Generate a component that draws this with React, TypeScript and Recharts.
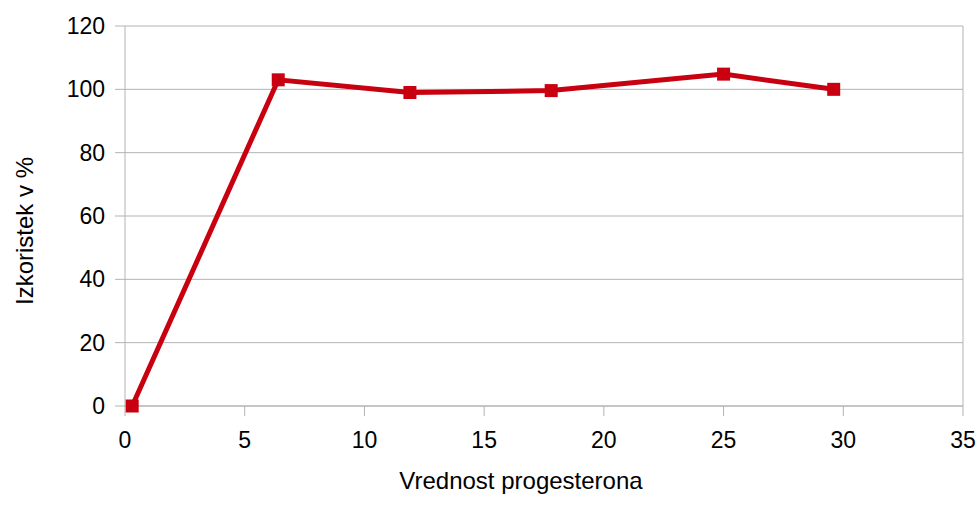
import { LineChart, Line, XAxis, YAxis, CartesianGrid, ReferenceLine, Label } from 'recharts';

const progesterone = [0.3, 6.4, 11.9, 17.8, 25.0, 29.6];
const recovery = [0, 103, 99, 99.6, 104.8, 100];
const xTicks = [0, 5, 10, 15, 20, 25, 30, 35];
const yTicks = [0, 20, 40, 60, 80, 100, 120];

const data = progesterone.map((x, i) => ({ x, y: recovery[i] }));

const RED = '#c9000f';
const GRID = '#b3b3b3';
const FONT = '"Liberation Sans", Arial, sans-serif';

function SquareDot(props: any) {
  const { cx, cy } = props;
  if (cx == null || cy == null) return null;
  return <rect x={cx - 6.5} y={cy - 6.5} width={13} height={13} fill={RED} />;
}

export default function App() {
  return (
    <div style={{ position: 'absolute', left: 0, top: 0, fontFamily: FONT }}>
      <LineChart width={980} height={506} data={data} margin={{ top: 26, right: 17, bottom: 0, left: 0 }}>
        <CartesianGrid vertical={false} stroke={GRID} strokeWidth={1} />
        <ReferenceLine x={35} stroke={GRID} strokeWidth={1} />
        <XAxis
          dataKey="x"
          type="number"
          domain={[0, 35]}
          ticks={xTicks}
          height={100}
          tickSize={10}
          tickMargin={16}
          axisLine={{ stroke: GRID }}
          tickLine={{ stroke: GRID }}
          tick={{ fill: '#000', fontSize: 23, fontFamily: FONT }}
        >
          <Label
            content={() => (
              <text x={521} y={489} textAnchor="middle" fill="#000" fontSize={24} fontFamily={FONT}>
                Vrednost progesterona
              </text>
            )}
          />
        </XAxis>
        <YAxis
          type="number"
          domain={[0, 120]}
          ticks={yTicks}
          width={125}
          tickSize={10}
          tickMargin={10}
          axisLine={{ stroke: GRID }}
          tickLine={{ stroke: GRID }}
          tick={{ fill: '#000', fontSize: 23, fontFamily: FONT }}
        >
          <Label
            content={() => (
              <text
                x={33}
                y={231}
                textAnchor="middle"
                fill="#000"
                fontSize={24}
                fontFamily={FONT}
                transform="rotate(-90 33 231)"
              >
                Izkoristek v %
              </text>
            )}
          />
        </YAxis>
        <Line
          type="linear"
          dataKey="y"
          stroke={RED}
          strokeWidth={5}
          dot={<SquareDot />}
          activeDot={false}
          isAnimationActive={false}
        />
      </LineChart>
    </div>
  );
}
